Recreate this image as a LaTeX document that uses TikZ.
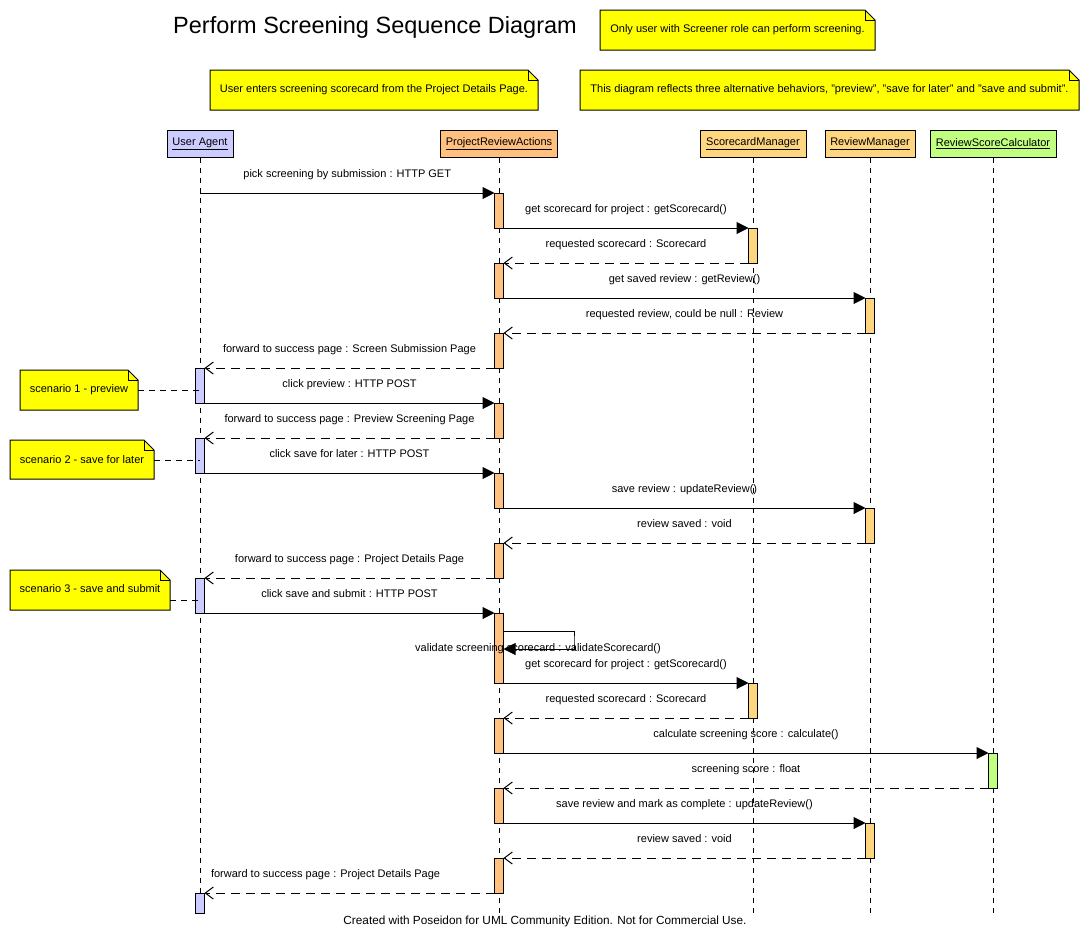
\documentclass[tikz,border=0pt]{standalone}
\usepackage{fontspec}
\setmainfont{Liberation Sans}
\usetikzlibrary{arrows.meta}
\pgfdeclarelayer{background}
\pgfsetlayers{background,main}
\definecolor{uacol}{HTML}{CCCCFF}
\definecolor{pracol}{HTML}{FFC080}
\definecolor{mgrcol}{HTML}{FFD680}
\definecolor{calccol}{HTML}{C0FF80}
\definecolor{noteyellow}{HTML}{FFFF00}
\newcommand\notebg[1]{%
  \begin{pgfonlayer}{background}
    \draw[line width=1pt, fill=noteyellow] (#1.south west) -- (#1.north west) -- ([xshift=-10pt]#1.north east) -- ([yshift=-10pt]#1.north east) -- (#1.south east) -- cycle;
    \draw[line width=1pt] ([xshift=-10pt]#1.north east) |- ([yshift=-10pt]#1.north east);
  \end{pgfonlayer}}
\begin{document}
\begin{tikzpicture}[x=1pt,y=-1pt,
  txt/.style={font=\fontsize{11}{13}\selectfont},
  lbl/.style={txt, inner sep=0pt, text height=8pt, text depth=2.5pt},
  head/.style={txt, draw, line width=1pt, minimum height=27pt, inner sep=0pt},
  act/.style={draw, line width=1pt, minimum width=9pt, inner sep=0pt, outer sep=0pt, anchor=north},
  note/.style={txt, inner sep=0pt, outer sep=0pt},
  lifeline/.style={line width=1pt, dash pattern=on 5pt off 5pt},
  call/.style={line width=1pt, -{Triangle[length=12pt,width=12pt]}},
  ret/.style={line width=1pt, dash pattern=on 9pt off 6pt, -{Straight Barb[length=8pt,width=12pt,line width=1pt]}},
  notelink/.style={line width=1pt, dash pattern=on 6pt off 5pt}]
\begin{pgfonlayer}{background}
  \fill[white] (0,0) rectangle (1090,948);
\end{pgfonlayer}
\useasboundingbox (0,0) rectangle (1090,948);

% title and notes
\node[font=\fontsize{23.5}{28}\selectfont, inner sep=0pt] (title) at (375,27) {Perform Screening Sequence Diagram};
\node[note, minimum width=275pt, minimum height=40pt] (nOnly) at (737.5,30) {Only user with Screener role can perform screening.};
\notebg{nOnly}
\node[note, minimum width=328pt, minimum height=40pt] (nUser) at (374,90) {User enters screening scorecard from the Project Details Page.};
\notebg{nUser}
\node[note, minimum width=499pt, minimum height=40pt] (nThis) at (829.5,90) {This diagram reflects three alternative behaviors, "preview", "save for later" and "save and submit".};
\notebg{nThis}
\node[note, minimum width=118pt, minimum height=40pt] (nS1) at (79,390) {scenario 1 - preview};
\notebg{nS1}
\node[note, minimum width=144pt, minimum height=39pt] (nS2) at (82,459.5) {scenario 2 - save for later};
\notebg{nS2}
\node[note, minimum width=160pt, minimum height=40pt, text height=8pt, text depth=2.5pt] (nS3) at (90,590) {scenario 3 - save and submit};
\notebg{nS3}

% lifeline heads
\node[head, fill=uacol, minimum width=66pt] (ua) at (200,143.5) {\underline{User Agent}};
\node[head, fill=pracol, minimum width=117pt] (pra) at (499,143.5) {\underline{ProjectReviewActions}};
\node[head, fill=mgrcol, minimum width=106pt] (sm) at (753,143.5) {\underline{ScorecardManager}};
\node[head, fill=mgrcol, minimum width=90pt] (rm) at (870,143.5) {\underline{ReviewManager}};
\node[head, fill=calccol, minimum width=126pt] (rsc) at (993,143.5) {\underline{ReviewScoreCalculator}};

% lifelines
\coordinate (uaEnd) at (200,913);
\coordinate (praEnd) at (499,913);
\coordinate (smEnd) at (753,913);
\coordinate (rmEnd) at (870,913);
\coordinate (rscEnd) at (993,913);
\draw[lifeline] (ua.south) -- (uaEnd);
\draw[lifeline] (pra.south) -- (praEnd);
\draw[lifeline] (sm.south) -- (smEnd);
\draw[lifeline] (rm.south) -- (rmEnd);
\draw[lifeline] (rsc.south) -- (rscEnd);

% activations
\node[act, fill=pracol, minimum height=35pt] (p1) at (499,193) {};
\node[act, fill=mgrcol, minimum height=35pt] (s1) at (753,228) {};
\node[act, fill=pracol, minimum height=35pt] (p2) at (499,263) {};
\node[act, fill=mgrcol, minimum height=35pt] (r1) at (870,298) {};
\node[act, fill=pracol, minimum height=35pt] (p3) at (499,333) {};
\node[act, fill=uacol, minimum height=35pt] (u1) at (200,368) {};
\node[act, fill=pracol, minimum height=35pt] (p4) at (499,403) {};
\node[act, fill=uacol, minimum height=35pt] (u2) at (200,438) {};
\node[act, fill=pracol, minimum height=35pt] (p5) at (499,473) {};
\node[act, fill=mgrcol, minimum height=35pt] (r2) at (870,508) {};
\node[act, fill=pracol, minimum height=35pt] (p6) at (499,543) {};
\node[act, fill=uacol, minimum height=35pt] (u3) at (200,578) {};
\node[act, fill=pracol, minimum height=70pt] (p7) at (499,613) {};
\node[act, fill=mgrcol, minimum height=35pt] (s2) at (753,683) {};
\node[act, fill=pracol, minimum height=35pt] (p8) at (499,718) {};
\node[act, fill=calccol, minimum height=35pt] (c1) at (993,753) {};
\node[act, fill=pracol, minimum height=35pt] (p9) at (499,788) {};
\node[act, fill=mgrcol, minimum height=35pt] (r3) at (870,823) {};
\node[act, fill=pracol, minimum height=35pt] (p10) at (499,858) {};
\node[act, fill=uacol, minimum height=20pt] (u4) at (200,893) {};

% note links
\draw[notelink] (nS1.east) -- (nS1.east -| u1.center);
\draw[notelink] ([yshift=-0.5pt]nS2.east) -- ([yshift=-0.5pt]nS2.east -| u2.center);
\coordinate (s3a) at (170,600);
\draw[notelink] (s3a) -- (s3a -| u3.center);

% messages
\coordinate (u0) at (200,193);
\draw[call] (u0) -- node[lbl, above=13pt] {pick screening by submission : HTTP GET} (p1.north west);
\draw[call] (p1.south east) -- node[lbl, above=13pt] {get scorecard for project : getScorecard()} (s1.north west);
\draw[ret] (s1.south west) -- node[lbl, above=13pt] {requested scorecard : Scorecard} (p2.north east);
\draw[call] (p2.south east) -- node[lbl, above=13pt] {get saved review : getReview()} (r1.north west);
\draw[ret] (r1.south west) -- node[lbl, above=13pt] {requested review, could be null : Review} (p3.north east);
\draw[ret] (p3.south west) -- node[lbl, above=13pt] {forward to success page : Screen Submission Page} (u1.north east);
\draw[call] (u1.south east) -- node[lbl, above=13pt] {click preview : HTTP POST} (p4.north west);
\draw[ret] (p4.south west) -- node[lbl, above=13pt] {forward to success page : Preview Screening Page} (u2.north east);
\draw[call] (u2.south east) -- node[lbl, above=13pt] {click save for later : HTTP POST} (p5.north west);
\draw[call] (p5.south east) -- node[lbl, above=13pt] {save review : updateReview()} (r2.north west);
\draw[ret] (r2.south west) -- node[lbl, above=13pt] {review saved : void} (p6.north east);
\draw[ret] (p6.south west) -- node[lbl, above=13pt] {forward to success page : Project Details Page} (u3.north east);
\draw[call] (u3.south east) -- node[lbl, above=13pt] {click save and submit : HTTP POST} (p7.north west);
\coordinate (selfR) at (574,640);
\draw[call] ([yshift=-18pt]p7.north east) -| (selfR) |- ([yshift=-36pt]p7.north east);
\node[lbl] (selfLbl) at (538,649) {validate screening scorecard : validateScorecard()};
\draw[call] (p7.south east) -- node[lbl, above=13pt] {get scorecard for project : getScorecard()} (s2.north west);
\draw[ret] (s2.south west) -- node[lbl, above=13pt] {requested scorecard : Scorecard} (p8.north east);
\draw[call] (p8.south east) -- node[lbl, above=13pt] {calculate screening score : calculate()} (c1.north west);
\draw[ret] (c1.south west) -- node[lbl, above=13pt] {screening score : float} (p9.north east);
\draw[call] (p9.south east) -- node[lbl, above=13pt] {save review and mark as complete : updateReview()} (r3.north west);
\draw[ret] (r3.south west) -- node[lbl, above=13pt] {review saved : void} (p10.north east);
\draw[ret] (p10.south west) -- (u4.north east) node[lbl, pos=1, anchor=south west, xshift=6pt, yshift=13pt] {forward to success page : Project Details Page};

% footer
\node[font=\fontsize{11.8}{14}\selectfont, inner sep=0pt] (footer) at (545,921) {Created with Poseidon for UML Community Edition. Not for Commercial Use.};
\end{tikzpicture}
\end{document}
